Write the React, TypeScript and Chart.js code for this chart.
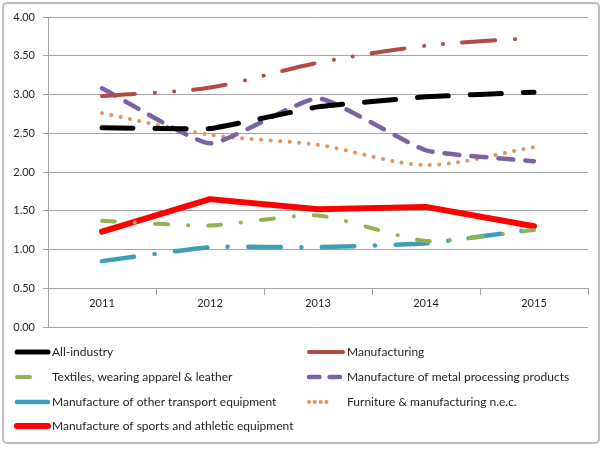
import React, { useEffect, useRef } from "react";
import { Chart, registerables } from "chart.js";

Chart.register(...registerables);

const categories = ["2011", "2012", "2013", "2014", "2015"];
const yTicks = [0, 0.5, 1, 1.5, 2, 2.5, 3, 3.5, 4];

const seriesNames = [
  "All-industry",
  "Manufacturing",
  "Textiles, wearing apparel & leather",
  "Manufacture of metal processing products",
  "Manufacture of other transport equipment",
  "Furniture & manufacturing n.e.c.",
  "Manufacture of sports and athletic equipment",
];

const allIndustry = [2.57, 2.56, 2.84, 2.97, 3.03];
const manufacturing = [2.98, 3.09, 3.41, 3.63, 3.73];
const textiles = [1.37, 1.31, 1.44, 1.11, 1.25];
const metalProducts = [3.08, 2.37, 2.95, 2.28, 2.14];
const transportEquip = [0.85, 1.03, 1.03, 1.08, 1.26];
const furniture = [2.76, 2.48, 2.35, 2.09, 2.32];
const sportsEquip = [1.23, 1.65, 1.52, 1.55, 1.3];

const seriesValues = [
  allIndustry,
  manufacturing,
  textiles,
  metalProducts,
  transportEquip,
  furniture,
  sportsEquip,
];

const styles = [
  { color: "#000000", width: 5, dash: [31, 22], tension: 0.08, legendDash: [] as number[] },
  { color: "#B24A46", width: 4, dash: [33, 20, 0.1, 19, 0.1, 19], tension: 0.3, legendDash: [] as number[] },
  { color: "#8FB253", width: 4, dash: [13, 20, 0.1, 20], tension: 0.2, legendDash: [13, 60] },
  { color: "#7B62A0", width: 4.5, dash: [15, 12], tension: 0.15, legendDash: [10.5, 10] },
  { color: "#3E9DB8", width: 4.5, dash: [32.5, 20.5, 0.1, 20.5], tension: 0.15, legendDash: [] as number[] },
  { color: "#E0965E", width: 4, dash: [0.1, 9.4], tension: 0.3, legendDash: [0.1, 5.7, 0.1, 5.7, 0.1, 5.7, 0.1, 40] },
  { color: "#FF0000", width: 6, dash: [] as number[], tension: 0, legendDash: [] as number[] },
];

const FONT = "Lato, 'Open Sans', sans-serif";
const TEXT = "#1e1e1e";
const GRID = "#a3a3a3";

const borderPlugin = {
  id: "outerBorder",
  beforeDraw(chart: any) {
    const ctx = chart.ctx;
    ctx.save();
    ctx.fillStyle = "#ffffff";
    ctx.fillRect(0, 0, chart.width, chart.height);
    ctx.strokeStyle = "#bdbdbd";
    ctx.lineWidth = 2;
    ctx.beginPath();
    if ((ctx as any).roundRect) {
      (ctx as any).roundRect(3, 3, 596, 440, 4);
    } else {
      ctx.rect(3, 3, 596, 440);
    }
    ctx.stroke();
    ctx.restore();
  },
};

const legendPlugin = {
  id: "gridLegend",
  afterDraw(chart: any) {
    const ctx = chart.ctx;
    const colLine = [
      [15, 50],
      [307, 345],
    ];
    const colText = [52, 347];
    const rowY = [352, 377, 402, 426];
    ctx.save();
    chart.data.datasets.forEach((ds: any, i: number) => {
      const col = i % 2;
      const row = Math.floor(i / 2);
      const y = rowY[row];
      const st = styles[i];
      ctx.beginPath();
      ctx.strokeStyle = ds.borderColor;
      ctx.lineWidth = st.width;
      ctx.lineCap = "round";
      ctx.setLineDash(st.legendDash);
      ctx.moveTo(colLine[col][0] + 2, y);
      ctx.lineTo(colLine[col][1] - 2, y);
      ctx.stroke();
      ctx.setLineDash([]);
      ctx.fillStyle = TEXT;
      ctx.font = `12px ${FONT}`;
      ctx.textBaseline = "middle";
      ctx.textAlign = "left";
      ctx.fillText(ds.label, colText[col], y);
    });
    ctx.restore();
  },
};

export default function App() {
  const canvasRef = useRef<HTMLCanvasElement | null>(null);

  useEffect(() => {
    if (!canvasRef.current) return;
    const chart = new Chart(canvasRef.current, {
      type: "line",
      data: {
        labels: categories,
        datasets: seriesNames.map((name, i) => ({
          label: name,
          data: seriesValues[i],
          borderColor: styles[i].color,
          backgroundColor: styles[i].color,
          borderWidth: styles[i].width,
          borderDash: styles[i].dash,
          borderCapStyle: "round" as const,
          borderJoinStyle: "round" as const,
          tension: styles[i].tension,
          pointRadius: 0,
          pointHoverRadius: 0,
          fill: false,
        })),
      },
      options: {
        animation: false,
        responsive: true,
        maintainAspectRatio: false,
        layout: { padding: { top: 17, right: 12, bottom: 123, left: 0 } },
        plugins: {
          legend: { display: false },
          tooltip: { enabled: false },
        },
        scales: {
          x: {
            type: "category",
            position: { y: 0.5 } as any,
            offset: true,
            grid: {
              display: true,
              drawOnChartArea: false,
              drawTicks: true,
              tickLength: 6,
              offset: true,
              color: GRID,
            },
            border: { display: true, color: GRID, width: 1 },
            ticks: {
              color: TEXT,
              font: { family: FONT, size: 11 },
              padding: 3,
              maxRotation: 0,
            },
          },
          y: {
            min: 0,
            max: 4,
            afterFit: (s: any) => {
              s.width = 48;
            },
            afterBuildTicks: (s: any) => {
              s.ticks = yTicks.map((v) => ({ value: v }));
            },
            grid: {
              color: GRID,
              lineWidth: 1,
              drawTicks: true,
              tickLength: 5,
            },
            border: { display: true, color: GRID, width: 1 },
            ticks: {
              color: TEXT,
              font: { family: FONT, size: 11 },
              padding: 8,
              callback: (v: any) => Number(v).toFixed(2),
            },
          },
        },
      },
      plugins: [borderPlugin, legendPlugin],
    });
    return () => chart.destroy();
  }, []);

  return (
    <div style={{ position: "fixed", left: 0, top: 0, width: 600, height: 450 }}>
      <canvas ref={canvasRef} />
    </div>
  );
}
